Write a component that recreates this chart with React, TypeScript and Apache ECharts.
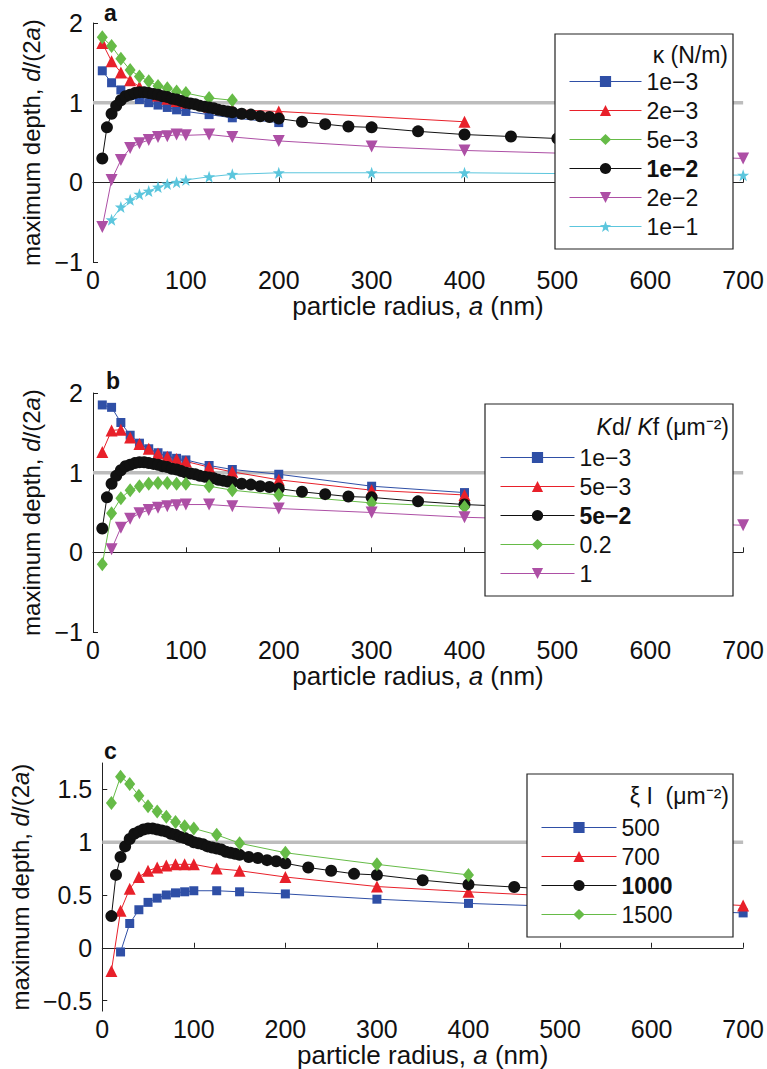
import React, { useEffect, useRef } from "react";
import * as echarts from "echarts";

// ---------- data ----------
const xTickValues = [0, 100, 200, 300, 400, 500, 600, 700];
const yTicksC = [-0.5, 0, 0.5, 1, 1.5];

// reference curve (black) shared by the three panels
const xRef = [10, 15, 20, 25, 30, 35, 40, 45, 50, 55, 60, 65, 70, 75, 80, 85, 90, 95, 100, 105, 110, 115, 120, 125, 130, 135, 140, 145, 150, 160, 170, 180, 190, 200, 225, 250, 275, 300, 350, 400, 450, 500, 550, 600];
const yRef = [0.30, 0.69, 0.86, 0.96, 1.03, 1.08, 1.10, 1.12, 1.13, 1.13, 1.12, 1.11, 1.10, 1.08, 1.07, 1.05, 1.04, 1.02, 1.00, 0.99, 0.98, 0.96, 0.95, 0.94, 0.93, 0.91, 0.90, 0.89, 0.88, 0.86, 0.85, 0.83, 0.82, 0.80, 0.76, 0.73, 0.70, 0.69, 0.64, 0.60, 0.575, 0.55, 0.53, 0.51];

// panel a : kappa (N/m)
const xA1 = [10, 20, 30, 40, 50, 60, 70, 80, 90, 100, 125, 150, 200];
const yA1 = [1.40, 1.25, 1.16, 1.09, 1.04, 1.00, 0.97, 0.94, 0.91, 0.89, 0.85, 0.81, 0.75];
const xA2 = [10, 20, 30, 40, 50, 60, 70, 80, 90, 100, 125, 150, 200, 400];
const yA2 = [1.75, 1.52, 1.38, 1.28, 1.20, 1.14, 1.09, 1.05, 1.02, 1.00, 0.95, 0.91, 0.89, 0.76];
const xA3 = [10, 20, 30, 40, 50, 60, 70, 80, 90, 100, 125, 150];
const yA3 = [1.82, 1.71, 1.55, 1.41, 1.33, 1.27, 1.21, 1.18, 1.14, 1.12, 1.06, 1.03];
const xA5 = [10, 20, 30, 40, 50, 60, 70, 80, 90, 100, 125, 150, 200, 300, 400, 700];
const yA5 = [-0.56, 0.03, 0.28, 0.43, 0.49, 0.53, 0.57, 0.58, 0.60, 0.59, 0.60, 0.57, 0.52, 0.45, 0.40, 0.30];
const xA6 = [20, 30, 40, 50, 60, 70, 80, 90, 100, 125, 150, 200, 300, 400, 700];
const yA6 = [-0.47, -0.31, -0.22, -0.15, -0.11, -0.06, -0.02, 0.00, 0.03, 0.07, 0.10, 0.12, 0.12, 0.12, 0.09];
const labelsA = ["1e−3", "2e−3", "5e−3", "1e−2", "2e−2", "1e−1"];

// panel b : Kd/Kf
const xB = [10, 20, 30, 40, 50, 60, 70, 80, 90, 100, 125, 150, 200, 300, 400];
const yB1 = [1.85, 1.82, 1.63, 1.47, 1.37, 1.30, 1.25, 1.21, 1.18, 1.16, 1.09, 1.04, 0.98, 0.83, 0.75];
const yB2 = [1.26, 1.53, 1.54, 1.44, 1.36, 1.30, 1.24, 1.20, 1.17, 1.14, 1.07, 1.01, 0.91, 0.78, 0.72];
const yB4 = [-0.15, 0.49, 0.68, 0.78, 0.83, 0.86, 0.87, 0.87, 0.86, 0.86, 0.83, 0.78, 0.72, 0.62, 0.57];
const xB5 = [20, 30, 40, 50, 60, 70, 80, 90, 100, 125, 150, 200, 300, 400, 700];
const yB5 = [0.04, 0.31, 0.42, 0.49, 0.53, 0.56, 0.58, 0.59, 0.60, 0.60, 0.58, 0.55, 0.50, 0.44, 0.34];
const labelsB = ["1e−3", "5e−3", "5e−2", "0.2", "1"];

// panel c : xi l
const xC1 = [20, 30, 40, 50, 60, 70, 80, 90, 100, 125, 150, 200, 300, 400, 700];
const yC1 = [-0.04, 0.23, 0.36, 0.43, 0.47, 0.50, 0.52, 0.53, 0.54, 0.54, 0.53, 0.51, 0.46, 0.42, 0.33];
const xC2 = [10, 20, 30, 40, 50, 60, 70, 80, 90, 100, 125, 150, 200, 300, 400, 700];
const yC2 = [-0.22, 0.35, 0.56, 0.67, 0.73, 0.76, 0.78, 0.79, 0.79, 0.79, 0.75, 0.73, 0.67, 0.58, 0.53, 0.40];
const xC4 = [10, 20, 30, 40, 50, 60, 70, 80, 90, 100, 125, 150, 200, 300, 400];
const yC4 = [1.37, 1.62, 1.55, 1.44, 1.34, 1.29, 1.24, 1.19, 1.15, 1.13, 1.07, 0.99, 0.90, 0.79, 0.69];
const labelsC = ["500", "700", "1000", "1500"];

// ---------- styles ----------
const TICK_FONT = "'Liberation Sans', Arial, Helvetica, sans-serif";
const TEXT_FONT = "'Liberation Sans', Arial, Helvetica, sans-serif";
const BLUE = "#2f4fa6";
const RED = "#e8202a";
const GREEN = "#66bb47";
const BLACK = "#111111";
const MAGENTA = "#ad4fa5";
const CYAN = "#5cc6dd";
const INV_TRI = "path://M0,0 L10,0 L5,9 Z";
const STAR = "path://M0,-10 L2.35,-3.24 L9.51,-3.09 L3.8,1.24 L5.88,8.09 L0,4 L-5.88,8.09 L-3.8,1.24 L-9.51,-3.09 L-2.35,-3.24 Z";

const MK = {
  square: { symbol: "rect", size: 9 },
  tri: { symbol: "triangle", size: 12 },
  diamond: { symbol: "diamond", size: [11, 14] },
  circle: { symbol: "circle", size: 12 },
  inv: { symbol: INV_TRI, size: 12 },
  star: { symbol: STAR, size: 12 },
};

const zip = (xs: number[], ys: number[]) => xs.map((x, i) => [x, ys[i]]);

type S = { x: number[]; y: number[]; color: string; mk: keyof typeof MK };

const panels: { id: string; series: S[]; labels: string[]; bold: number }[] = [
  {
    id: "a",
    labels: labelsA,
    bold: 3,
    series: [
      { x: xA1, y: yA1, color: BLUE, mk: "square" },
      { x: xA2, y: yA2, color: RED, mk: "tri" },
      { x: xA3, y: yA3, color: GREEN, mk: "diamond" },
      { x: xRef.slice(0, 42), y: yRef.slice(0, 42), color: BLACK, mk: "circle" },
      { x: xA5, y: yA5, color: MAGENTA, mk: "inv" },
      { x: xA6, y: yA6, color: CYAN, mk: "star" },
    ],
  },
  {
    id: "b",
    labels: labelsB,
    bold: 2,
    series: [
      { x: xB, y: yB1, color: BLUE, mk: "square" },
      { x: xB, y: yB2, color: RED, mk: "tri" },
      { x: xRef, y: yRef, color: BLACK, mk: "circle" },
      { x: xB, y: yB4, color: GREEN, mk: "diamond" },
      { x: xB5, y: yB5, color: MAGENTA, mk: "inv" },
    ],
  },
  {
    id: "c",
    labels: labelsC,
    bold: 2,
    series: [
      { x: xC1, y: yC1, color: BLUE, mk: "square" },
      { x: xC2, y: yC2, color: RED, mk: "tri" },
      { x: xRef, y: yRef, color: BLACK, mk: "circle" },
      { x: xC4, y: yC4, color: GREEN, mk: "diamond" },
    ],
  },
];

const grids = [
  { left: 93, top: 23, width: 652, height: 239 },
  { left: 93, top: 393, width: 652, height: 239 },
  { left: 93, top: 763, width: 652, height: 249 },
];
const yRanges = [
  { min: -1, max: 2 },
  { min: -1, max: 2 },
  { min: -0.6, max: 1.75 },
];
const legendPos = [
  { left: 569, top: 70, itemWidth: 72, box: { x: 555, y: 34, width: 178, height: 215 }, titleY: 55 },
  { left: 500, top: 446, itemWidth: 74, box: { x: 485, y: 404, width: 248, height: 192 }, titleY: 427 },
  { left: 541, top: 816, itemWidth: 75, box: { x: 527, y: 774, width: 206, height: 163 }, titleY: 796 },
];
const letterPos = [
  { x: 104, y: 13 },
  { x: 106, y: 381 },
  { x: 104, y: 751 },
];

const fmtMinus = (v: number) => String(v).replace("-", "−");

function buildOption() {
  const series: any[] = [];
  const legends: any[] = [];
  const graphics: any[] = [];
  const xAxes: any[] = [];
  const yAxes: any[] = [];

  panels.forEach((p, pi) => {
    xAxes.push({
      type: "value",
      gridIndex: pi,
      min: 0,
      max: 700,
      interval: 100,
      axisLine: { lineStyle: { color: "#222", width: 1 } },
      axisTick: { inside: true, length: 5, lineStyle: { color: "#222" } },
      axisLabel: { margin: 5, fontSize: 25, fontFamily: TICK_FONT, color: "#111" },
      splitLine: { show: false },
      name: "particle radius, {i|a} (nm)",
      nameLocation: "middle",
      nameGap: 26,
      nameTextStyle: {
        fontSize: 26,
        fontFamily: TICK_FONT,
        color: "#111",
        rich: { i: { fontStyle: "italic", fontSize: 26, fontFamily: TICK_FONT, color: "#111" } },
      },
    });
    const yr = yRanges[pi];
    const yAxis: any = {
      type: "value",
      gridIndex: pi,
      min: yr.min,
      max: yr.max,
      axisLine: { show: true, lineStyle: { color: "#222", width: 1 } },
      axisTick: { show: true, inside: true, length: 5, lineStyle: { color: "#222" } },
      axisLabel: { margin: 10, fontSize: 25, fontFamily: TICK_FONT, color: "#111", formatter: fmtMinus },
      splitLine: { show: false },
      name: "maximum depth, {i|d}/(2{i|a})",
      nameLocation: "middle",
      nameGap: 33,
      nameTextStyle: {
        fontSize: 24,
        fontFamily: TICK_FONT,
        color: "#111",
        rich: { i: { fontStyle: "italic", fontSize: 24, fontFamily: TICK_FONT, color: "#111" } },
      },
    };
    if (pi === 2) {
      yAxis.axisTick.customValues = yTicksC;
      yAxis.axisLabel.customValues = yTicksC;
    } else {
      yAxis.interval = 1;
    }
    yAxes.push(yAxis);

    // reference line at d/(2a) = 1
    series.push({
      type: "line",
      name: p.id + "|ref",
      xAxisIndex: pi,
      yAxisIndex: pi,
      data: [
        [xTickValues[0], 1],
        [xTickValues[xTickValues.length - 1], 1],
      ],
      symbol: "none",
      silent: true,
      z: 1,
      lineStyle: { color: "#bdbdbd", width: 3.5 },
    });

    const names: string[] = [];
    p.series.forEach((s, si) => {
      const name = p.id + "|" + p.labels[si];
      names.push(name);
      const mk = MK[s.mk];
      series.push({
        type: "line",
        name,
        xAxisIndex: pi,
        yAxisIndex: pi,
        data: zip(s.x, s.y),
        symbol: mk.symbol,
        symbolSize: mk.size,
        showSymbol: true,
        showAllSymbol: true,
        z: 2,
        itemStyle: { color: s.color, borderWidth: 0 },
        lineStyle: { color: s.color, width: 1 },
      });
    });

    const lp = legendPos[pi];
    legends.push({
      orient: "vertical",
      left: lp.left,
      top: lp.top,
      itemWidth: lp.itemWidth,
      itemHeight: 14,
      itemGap: 6,
      padding: 0,
      z: 6,
      selectedMode: false,
      data: names,
      lineStyle: { width: 1 },
      formatter: (name: string) => {
        const lbl = name.split("|")[1];
        return lbl === p.labels[p.bold] ? "{b|" + lbl + "}" : lbl;
      },
      textStyle: {
        fontSize: 23,
        lineHeight: 20,
        fontFamily: TEXT_FONT,
        color: "#111",
        rich: { b: { fontSize: 23, lineHeight: 20, fontWeight: "bold", fontFamily: TEXT_FONT, color: "#111" } },
      },
    });

    graphics.push({
      type: "rect",
      z: 4,
      shape: lp.box,
      style: { fill: "#ffffff", stroke: "#222", lineWidth: 1.2 },
    });
    graphics.push({
      type: "text",
      z: 6,
      x: letterPos[pi].x,
      y: letterPos[pi].y,
      style: {
        text: p.id,
        fontSize: 23,
        fontWeight: "bold",
        fontFamily: TEXT_FONT,
        fill: "#111",
        verticalAlign: "middle",
      },
    });
  });

  const titleStyle = { fontSize: 23, fontFamily: TEXT_FONT, fill: "#111", align: "right", verticalAlign: "middle" };
  graphics.push({
    type: "text",
    z: 6,
    x: 728,
    y: legendPos[0].titleY,
    style: { ...titleStyle, text: "κ (N/m)" },
  });
  graphics.push({
    type: "text",
    z: 6,
    x: 729,
    y: legendPos[1].titleY,
    style: {
      ...titleStyle,
      text: "{i|K}d/ {i|K}f (μm⁻²)",
      rich: { i: { fontStyle: "italic", fontSize: 23, fontFamily: TEXT_FONT, fill: "#111" } },
    },
  });
  graphics.push({
    type: "text",
    z: 6,
    x: 729,
    y: legendPos[2].titleY,
    style: { ...titleStyle, text: "ξ I  (μm⁻²)" },
  });

  return {
    animation: false,
    backgroundColor: "#ffffff",
    grid: grids,
    xAxis: xAxes,
    yAxis: yAxes,
    legend: legends,
    graphic: graphics,
    series,
  };
}

export default function App() {
  const ref = useRef<HTMLDivElement>(null);
  useEffect(() => {
    if (!ref.current) return;
    const chart = echarts.init(ref.current, null, { renderer: "svg" });
    chart.setOption(buildOption() as any);
    return () => chart.dispose();
  }, []);
  return (
    <div
      ref={ref}
      style={{ position: "absolute", left: 0, top: 0, width: 767, height: 1069, background: "#fff" }}
    />
  );
}
